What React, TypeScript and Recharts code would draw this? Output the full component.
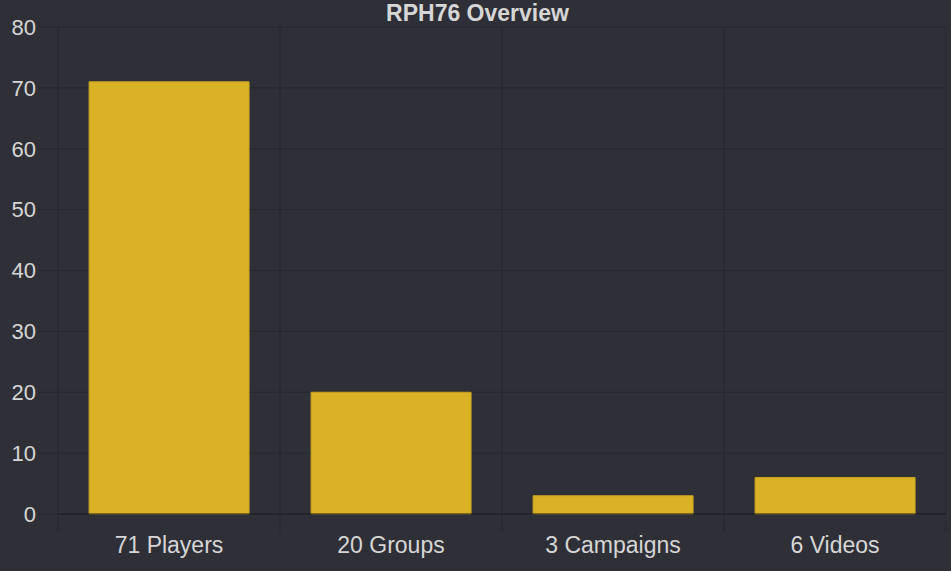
import { BarChart, Bar, XAxis, YAxis, CartesianGrid } from 'recharts'

const categories = ['71 Players', '20 Groups', '3 Campaigns', '6 Videos']
const counts = [71, 20, 3, 6]
const yTicks = [0, 10, 20, 30, 40, 50, 60, 70, 80]

const data = categories.map((name, i) => ({ name, value: counts[i] }))

const W = 951
const H = 571
const margin = { top: 27, right: 5, bottom: 0, left: 0 }
const yAxisWidth = 58
const gridColor = '#26272c'
const textColor = '#d6d6d6'
const font = '"Liberation Sans", Arial, sans-serif'

const plotWidth = W - margin.left - margin.right - yAxisWidth
const band = plotWidth / categories.length

function XTick(props: any) {
  const { x, y, payload, index } = props
  const left = x - band / 2
  return (
    <g>
      <line x1={left} x2={left} y1={y - 16} y2={y} stroke={gridColor} />
      {index === categories.length - 1 && (
        <line x1={left + band} x2={left + band} y1={y - 16} y2={y} stroke={gridColor} />
      )}
      <text
        x={x}
        y={y + 4}
        textAnchor="middle"
        dominantBaseline="hanging"
        fill={textColor}
        fontSize={23}
        fontFamily={font}
      >
        {payload.value}
      </text>
    </g>
  )
}

export default function App() {
  return (
    <div style={{ position: 'absolute', top: 0, left: 0, width: W, height: H, background: '#2f3037' }}>
      <div
        style={{
          position: 'absolute',
          top: 0,
          left: 2,
          width: W,
          textAlign: 'center',
          color: textColor,
          fontFamily: font,
          fontWeight: 'bold',
          fontSize: 23,
          lineHeight: '26px'
        }}
      >
        RPH76 Overview
      </div>
      <BarChart width={W} height={H} data={data} margin={margin} barCategoryGap="14%">
        <CartesianGrid
          stroke={gridColor}
          verticalCoordinatesGenerator={({ offset }: any) =>
            categories.map((_, i) => offset.left + i * band).concat(offset.left + plotWidth)
          }
        />
        <XAxis
          dataKey="name"
          axisLine={{ stroke: '#1f2024' }}
          tickLine={false}
          tickSize={16}
          height={57}
          interval={0}
          tick={<XTick />}
        />
        <YAxis
          domain={[0, 80]}
          ticks={yTicks}
          width={yAxisWidth}
          axisLine={false}
          tickLine={{ stroke: gridColor }}
          tickSize={20}
          tickMargin={2}
          tick={{ fill: textColor, fontSize: 22, fontFamily: font }}
        />
        <Bar
          dataKey="value"
          fill="#d9b225"
          stroke="#c7a21f"
          strokeWidth={1}
          isAnimationActive={false}
        />
      </BarChart>
    </div>
  )
}
